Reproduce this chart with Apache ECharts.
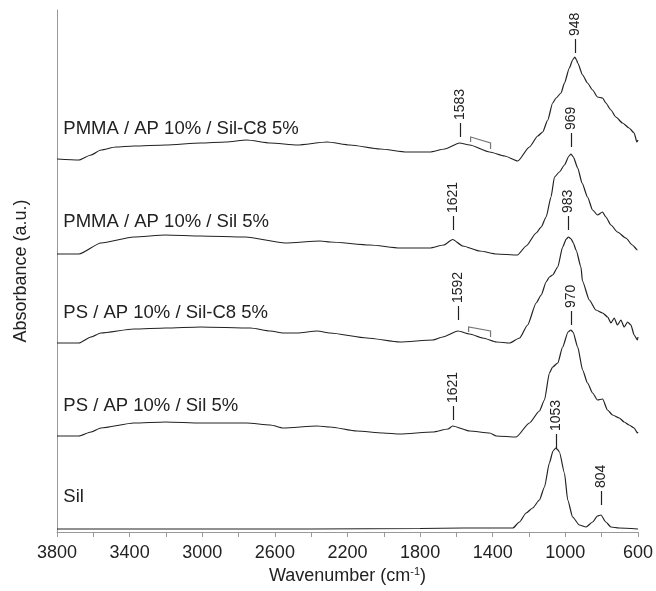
<!DOCTYPE html>
<html>
<head>
<meta charset="utf-8">
<title>FTIR spectra</title>
<script src="https://cdn.jsdelivr.net/npm/echarts@6/dist/echarts.min.js"></script>
<style>
  html, body { margin: 0; padding: 0; background: #fff; }
  #chart { width: 656px; height: 591px; }
</style>
</head>
<body>
<div id="chart"></div>
<script>
// [wavenumber (cm-1), absorbance incl. vertical offset (a.u.)]
const pmmaSilC8 = [
  [3800, 37.3], [3679, 37.2], [3613, 37.7], [3558, 38.2], [3476, 38.5], [3377, 38.6],
  [3201, 38.7], [3009, 38.9], [2870, 39.0], [2755, 39.2], [2625, 38.9], [2476, 38.7],
  [2312, 39.0], [2186, 38.7], [2021, 38.3], [1873, 38.0], [1747, 38.0], [1664, 38.3],
  [1583, 38.9], [1527, 38.7], [1417, 38.0], [1335, 37.6], [1262, 37.1], [1198, 38.5],
  [1152, 39.6], [1125, 40.0], [1097, 41.2], [1070, 42.9], [1051, 43.4], [1024, 43.9],
  [1005, 44.9], [978, 46.4], [960, 47.2], [948, 47.5], [938, 47.2], [932, 46.9], [905, 45.7], [878, 44.9],
  [850, 44.2], [823, 43.5], [795, 43.4], [777, 42.9], [749, 42.2], [722, 41.5],
  [685, 40.9], [649, 40.4], [621, 39.9], [606, 39.0], [600, 39.2]
];
const pmmaSil = [
  [3800, 27.8], [3679, 27.8], [3558, 28.9], [3377, 29.5], [3201, 29.7], [3009, 29.6],
  [2762, 29.5], [2542, 28.9], [2350, 29.1], [2296, 29.0], [2076, 28.7], [1911, 28.4],
  [1747, 28.4], [1670, 28.7], [1621, 29.25], [1565, 28.6], [1472, 28.1], [1379, 27.8],
  [1264, 27.7], [1216, 28.6], [1161, 29.9], [1133, 30.5], [1106, 31.5], [1079, 33.5],
  [1060, 35.5], [1033, 36.0], [1005, 36.7], [980, 37.6], [969, 37.8], [956, 37.5], [932, 36.4],
  [908, 34.9], [878, 33.5], [850, 32.2], [823, 31.7], [795, 32.0], [777, 31.5],
  [749, 30.7], [713, 30.0], [667, 29.4], [631, 28.7], [603, 28.2], [600, 28.2]
];
const psSilC8 = [
  [3800, 18.9], [3679, 18.9], [3613, 19.5], [3558, 19.9], [3377, 20.3], [3201, 20.4],
  [3009, 20.5], [2735, 20.4], [2625, 20.1], [2554, 19.9], [2476, 19.9], [2367, 20.1],
  [2296, 19.9], [2093, 19.4], [1911, 19.0], [1730, 19.2], [1675, 19.5], [1592, 20.1],
  [1527, 19.8], [1455, 19.4], [1379, 19.0], [1307, 18.9], [1252, 19.4], [1208, 20.7],
  [1161, 22.9], [1133, 23.7], [1106, 25.0], [1088, 25.5], [1070, 25.7], [1042, 26.5],
  [1015, 28.5], [995, 29.3], [983, 29.5], [968, 29.3], [956, 28.9], [941, 28.2], [914, 26.5], [906, 25.1],
  [868, 23.2], [832, 22.2], [795, 21.9], [767, 21.5], [749, 20.9], [731, 21.4],
  [713, 20.7], [694, 21.2], [676, 20.5], [657, 21.0], [639, 20.7], [621, 19.7],
  [603, 19.2], [600, 19.5]
];
const psSil = [
  [3800, 9.6], [3679, 9.6], [3613, 10.0], [3558, 10.4], [3377, 10.9], [3201, 11.0],
  [3009, 10.9], [2755, 10.9], [2625, 10.7], [2554, 10.4], [2367, 10.6], [2296, 10.5],
  [2149, 10.1], [2003, 9.9], [1911, 9.8], [1730, 10.0], [1646, 10.3], [1621, 10.6],
  [1527, 10.1], [1417, 9.9], [1380, 9.6], [1271, 9.5], [1198, 10.9], [1143, 12.1],
  [1115, 13.2], [1088, 15.9], [1070, 16.5], [1042, 16.9], [1015, 18.5], [985, 20.0], [970, 20.2],
  [958, 20.0], [932, 18.5], [905, 16.2], [878, 14.9], [850, 13.9], [823, 13.2],
  [795, 13.3], [768, 12.2], [740, 11.7], [703, 11.4], [676, 11.0], [649, 10.7],
  [621, 10.4], [603, 9.9], [600, 10.0]
];
const sil = [
  [3800, 0.3], [3000, 0.3], [2400, 0.3], [1800, 0.35], [1564, 0.4], [1289, 0.4],
  [1253, 1.0], [1216, 1.9], [1180, 2.4], [1143, 3.2], [1115, 4.5], [1088, 6.9],
  [1068, 8.1], [1053, 8.4], [1040, 8.2], [1033, 8.0], [1005, 5.9], [987, 3.2], [960, 1.5], [923, 0.7],
  [886, 0.5], [850, 1.0], [823, 1.6], [804, 1.7], [777, 1.0], [749, 0.5],
  [704, 0.4], [600, 0.3]
];

const spectra = [pmmaSilC8, pmmaSil, psSilC8, psSil, sil];
const spectrumNames = [
  'PMMA / AP 10% / Sil-C8 5%',
  'PMMA / AP 10% / Sil 5%',
  'PS / AP 10% / Sil-C8 5%',
  'PS / AP 10% / Sil 5%',
  'Sil'
];
const labelWn = 3765;
const labelY = [40.3, 31.0, 21.9, 12.6, 3.5];

// peak markers: wavenumber, bottom of the marker tick
const peakWn = [948, 1583, 969, 1621, 983, 1592, 970, 1621, 1053, 804];
const peakY = [47.9, 39.5, 38.5, 30.2, 30.2, 21.2, 20.7, 11.2, 8.4, 2.7];

// grey brackets next to the 1583 / 1592 bands
const bracketWn = [[1522, 1412], [1533, 1412]];
const bracketY = [[39.5, 38.9], [20.5, 20.1]];

const xTickLabels = [3800, 3400, 3000, 2600, 2200, 1800, 1400, 1000, 600];

const FONT = '"Liberation Sans", Arial, sans-serif';
const INK = '#222';

const chart = echarts.init(document.getElementById('chart'));

const spectrumSeries = spectra.map((d, i) => ({
  name: spectrumNames[i],
  type: 'line',
  data: d,
  showSymbol: false,
  smooth: 0.2,
  smoothMonotone: 'x',
  silent: true,
  lineStyle: { color: INK, width: 1.2 },
  z: 2
}));

const option = {
  animation: false,
  backgroundColor: '#fff',
  grid: { left: 57, right: 16, top: 10, bottom: 59 },
  xAxis: {
    type: 'value',
    min: 600,
    max: 3800,
    interval: 200,
    inverse: true,
    splitLine: { show: false },
    axisLine: { show: true, lineStyle: { color: '#999' } },
    axisTick: { show: true, length: 5, lineStyle: { color: '#999' } },
    axisLabel: {
      color: INK,
      fontSize: 18,
      fontFamily: FONT,
      margin: 12,
      formatter: (v) => (xTickLabels.includes(v) ? String(v) : '')
    },
    name: '{a|Wavenumber (cm}{s|-1}{a|)}',
    nameLocation: 'middle',
    nameGap: 31,
    nameTextStyle: {
      rich: {
        a: { fontSize: 18, fontFamily: FONT, color: INK },
        s: { fontSize: 11, fontFamily: FONT, color: INK, verticalAlign: 'top' }
      }
    }
  },
  yAxis: {
    type: 'value',
    min: 0,
    max: 52.2,
    splitLine: { show: false },
    axisLine: { show: true, lineStyle: { color: '#999' } },
    axisTick: { show: false },
    axisLabel: { show: false },
    name: 'Absorbance (a.u.)',
    nameLocation: 'middle',
    nameGap: 27,
    nameTextStyle: { fontSize: 18, fontFamily: FONT, color: INK }
  },
  series: [
    ...spectrumSeries,
    {
      // sample names
      type: 'custom',
      silent: true,
      data: labelY.map((y) => [labelWn, y]),
      renderItem: (params, api) => {
        const p = api.coord([api.value(0), api.value(1)]);
        return {
          type: 'text',
          x: p[0],
          y: p[1],
          style: {
            text: spectrumNames[params.dataIndex],
            fill: INK,
            fontSize: 18.5,
            fontFamily: FONT,
            align: 'left',
            verticalAlign: 'middle'
          }
        };
      }
    },
    {
      // peak ticks + rotated wavenumbers
      type: 'custom',
      silent: true,
      data: peakWn.map((w, i) => [w, peakY[i]]),
      renderItem: (params, api) => {
        const p = api.coord([api.value(0), api.value(1)]);
        const x = Math.round(p[0]) + 0.5;
        return {
          type: 'group',
          children: [
            {
              type: 'line',
              shape: { x1: x, y1: p[1], x2: x, y2: p[1] - 14 },
              style: { stroke: INK, lineWidth: 1.2 }
            },
            {
              type: 'text',
              x: x,
              y: p[1] - 17,
              rotation: Math.PI / 2,
              style: {
                text: String(peakWn[params.dataIndex]),
                fill: INK,
                fontSize: 14,
                fontFamily: FONT,
                align: 'left',
                verticalAlign: 'middle'
              }
            }
          ]
        };
      }
    },
    {
      // brackets
      type: 'custom',
      silent: true,
      data: bracketWn.map((w, i) => [w[0], bracketY[i][0], w[1], bracketY[i][1]]),
      renderItem: (params, api) => {
        const a = api.coord([api.value(0), api.value(1)]);
        const b = api.coord([api.value(2), api.value(3)]);
        return {
          type: 'polyline',
          shape: { points: [[a[0], a[1] + 5], a, b, [b[0], b[1] + 6]] },
          style: { stroke: '#777', lineWidth: 1.2, fill: null }
        };
      }
    }
  ]
};

chart.setOption(option);
</script>
</body>
</html>
